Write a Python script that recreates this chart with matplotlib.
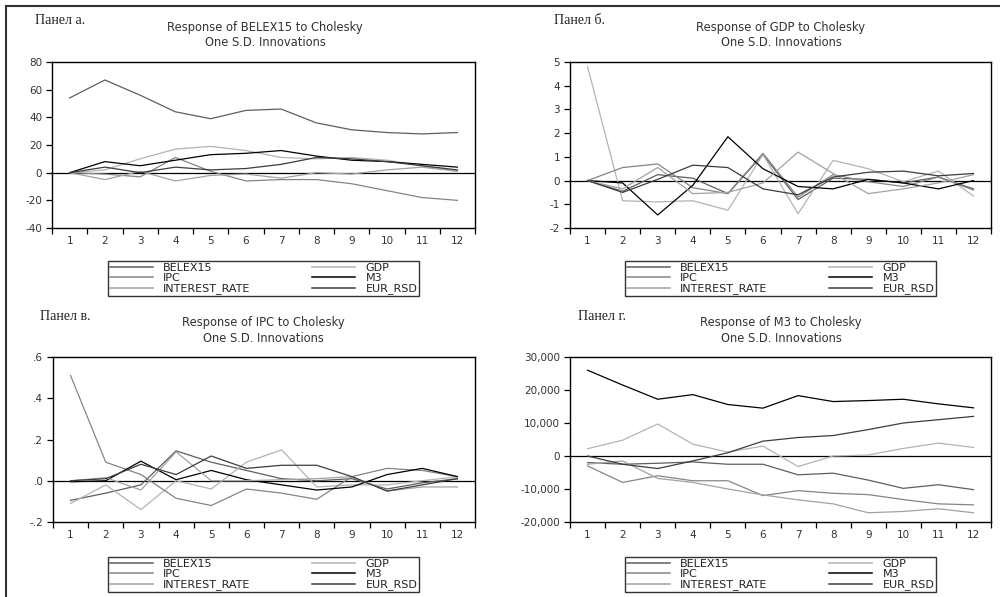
"""Impulse responses (Cholesky, one S.D.) - four panel EViews style chart."""

import matplotlib
matplotlib.use('Agg')
from matplotlib import pyplot as plt
from matplotlib.lines import Line2D
import numpy as np

# Periods on the x axis
PERIODS = list(range(1, 13))

# Legend / series names and grey shades
SERIES = ['BELEX15', 'GDP', 'IPC', 'M3', 'INTEREST_RATE', 'EUR_RSD']
COLORS = ['#5e5e5e', '#b4b4b4', '#858585', '#000000', '#a2a2a2', '#3c3c3c']

# Panel a: response of BELEX15
A_BELEX15 = [54, 67, 56, 44, 39, 45, 46, 36, 31, 29, 28, 29]
A_GDP = [0, 2, 10, 17, 19, 16, 11, 10, 11, 9, 5, 1]
A_IPC = [0, -1, -3, 11, 1, -6, -5, -5, -8, -13, -18, -20]
A_M3 = [0, 8, 5, 9, 13, 14, 16, 12, 9, 8, 6, 4]
A_INTEREST_RATE = [0, -5, 1, -6, -2, -1, -4, 0, -1, 2, 4, 1]
A_EUR_RSD = [0, 4, 0, 4, 2, 3, 6, 11, 10, 8, 5, 2]

# Panel b: response of GDP
B_BELEX15 = [0, -0.45, 0.25, 0.1, -0.55, 1.1, -0.8, 0.1, 0.05, -0.1, 0.15, -0.35]
B_GDP = [4.8, -0.85, -0.9, -0.85, -1.25, 1.1, -1.4, 0.85, 0.5, -0.05, 0.4, -0.65]
B_IPC = [0, 0.55, 0.7, -0.3, -0.55, 1.15, -0.7, 0.25, -0.05, -0.25, 0.15, -0.4]
B_M3 = [0, -0.1, -1.45, -0.2, 1.85, 0.5, -0.25, -0.35, 0.05, -0.1, -0.35, 0.0]
B_INTEREST_RATE = [0, -0.35, 0.55, -0.55, -0.5, -0.1, 1.2, 0.3, -0.55, -0.35, -0.1, 0.25]
B_EUR_RSD = [0, -0.5, 0.05, 0.65, 0.55, -0.35, -0.6, 0.15, 0.35, 0.4, 0.2, 0.3]

# Panel c: response of IPC
C_BELEX15 = [-0.095, -0.06, -0.02, 0.145, 0.09, 0.05, 0.01, 0.0, 0.01, -0.04, -0.01, 0.01]
C_GDP = [-0.11, -0.02, -0.14, 0.0, -0.04, 0.09, 0.15, -0.03, -0.02, -0.02, 0.0, 0.02]
C_IPC = [0.51, 0.09, 0.03, -0.085, -0.12, -0.04, -0.06, -0.09, 0.02, 0.06, 0.05, 0.02]
C_M3 = [-0.005, 0.0, 0.095, 0.005, 0.05, 0.005, -0.02, -0.045, -0.03, 0.03, 0.06, 0.02]
C_INTEREST_RATE = [0.0, 0.015, -0.045, 0.14, 0.0, 0.0, 0.005, 0.01, 0.02, -0.05, -0.03, -0.03]
C_EUR_RSD = [0.0, 0.01, 0.08, 0.03, 0.12, 0.06, 0.075, 0.075, 0.02, -0.05, -0.02, 0.01]

# Panel d: response of M3
D_BELEX15 = [-2000, -2500, -2200, -1800, -2500, -2500, -5700, -5200, -7300,
             -9800, -8700, -10200]
D_GDP = [2200, 4800, 9700, 3600, 1200, 3000, -3200, 0, 300, 2300, 3900, 2600]
D_IPC = [-3000, -8000, -6000, -7500, -7500, -12000, -10500, -11300, -11700,
         -13200, -14500, -14800]
D_M3 = [26000, 21500, 17200, 18600, 15600, 14500, 18300, 16500, 16800,
        17200, 15800, 14600]
D_INTEREST_RATE = [-2500, -1500, -6800, -8000, -10000, -11800, -13300, -14500,
                   -17200, -16800, -16000, -17200]
D_EUR_RSD = [0, -2500, -3800, -1500, 1000, 4500, 5600, 6200, 8000, 10000,
             11000, 12000]

# Y axis ticks and labels per panel
A_YTICKS = [-40, -20, 0, 20, 40, 60, 80]
A_YLABELS = ['-40', '-20', '0', '20', '40', '60', '80']
B_YTICKS = [-2, -1, 0, 1, 2, 3, 4, 5]
B_YLABELS = ['-2', '-1', '0', '1', '2', '3', '4', '5']
C_YTICKS = [-0.2, 0.0, 0.2, 0.4, 0.6]
C_YLABELS = ['-.2', '.0', '.2', '.4', '.6']
D_YTICKS = [-20000, -10000, 0, 10000, 20000, 30000]
D_YLABELS = ['-20,000', '-10,000', '0', '10,000', '20,000', '30,000']

PANEL_LABELS = ['Панел а.', 'Панел б.', 'Панел в.', 'Панел г.']
TITLES = ['Response of BELEX15 to Cholesky\nOne S.D. Innovations',
          'Response of GDP to Cholesky\nOne S.D. Innovations',
          'Response of IPC to Cholesky\nOne S.D. Innovations',
          'Response of M3 to Cholesky\nOne S.D. Innovations']

W, H = 1000, 597


def fx(px):
    """Pixel x to figure fraction."""
    return px / W


def fy(py):
    """Pixel y (from top) to figure fraction."""
    return 1 - py / H


def draw_panel(fig, box, ys, yticks, ylabels, leg_box):
    """Draw one impulse response panel with its legend."""
    x0, y0, x1, y1 = box
    ax = fig.add_axes([fx(x0), fy(y1), fx(x1 - x0), (y1 - y0) / H])
    for name, color, y in zip(SERIES, COLORS, ys):
        ax.plot(PERIODS, y, color=color, lw=0.9, label=name)
    ax.axhline(0, color='black', lw=0.9, zorder=0.5)

    ax.set_xlim(0.5, 12.5)
    ax.set_ylim(yticks[0], yticks[-1])
    ax.set_xticks(np.arange(0.5, 13, 1))
    ax.set_xticklabels([])
    ax.set_xticks(PERIODS, minor=True)
    ax.set_xticklabels([str(p) for p in PERIODS], minor=True)
    ax.tick_params(axis='x', which='major', direction='out', length=4,
                   width=0.9)
    ax.tick_params(axis='x', which='minor', length=0, pad=6,
                   labelsize=7.5, labelcolor='#333333')
    ax.set_yticks(yticks)
    ax.set_yticklabels(ylabels)
    ax.tick_params(axis='y', direction='out', length=4, width=0.9,
                   labelsize=7.5, labelcolor='#333333', pad=3)
    for sp in ax.spines.values():
        sp.set_linewidth(1.0)
        sp.set_color('black')

    # Legend: column wise order
    order = [0, 2, 4, 1, 3, 5]
    handles = [Line2D([], [], color=COLORS[i], lw=1.1) for i in order]
    labels = [SERIES[i] for i in order]
    lx0, ly0, lx1, ly1 = leg_box
    leg = fig.legend(handles, labels, ncol=2, mode='expand',
                     bbox_to_anchor=(fx(lx0), fy(ly1), fx(lx1 - lx0),
                                     (ly1 - ly0) / H),
                     loc='lower left', borderaxespad=0, fontsize=8,
                     handlelength=3.9, handletextpad=0.9, labelspacing=0.02,
                     borderpad=0.15, columnspacing=1.0, fancybox=False,
                     frameon=True)
    leg.get_frame().set_edgecolor('black')
    leg.get_frame().set_linewidth(1.0)
    for t in leg.get_texts():
        t.set_color('#222222')
    return ax


def draw_title(fig, label_x, cx, ty, label, title):
    """Panel label in serif and EViews style title."""
    fig.text(fx(label_x), fy(ty), label, family='Liberation Serif',
             fontsize=10, ha='left', va='center', color='#222222')
    fig.text(fx(cx), fy(ty), title, family='DejaVu Sans', fontsize=8.3,
             ha='center', va='top', color='#333333', linespacing=1.25)


fig = plt.figure(figsize=(W / 100, H / 100), dpi=100)

draw_panel(fig, (52, 62, 475, 228),
           [A_BELEX15, A_GDP, A_IPC, A_M3, A_INTEREST_RATE, A_EUR_RSD],
           A_YTICKS, A_YLABELS, (108, 256, 419, 296))
draw_panel(fig, (570, 62, 991, 228),
           [B_BELEX15, B_GDP, B_IPC, B_M3, B_INTEREST_RATE, B_EUR_RSD],
           B_YTICKS, B_YLABELS, (625, 256, 936, 296))
draw_panel(fig, (53, 357, 475, 522),
           [C_BELEX15, C_GDP, C_IPC, C_M3, C_INTEREST_RATE, C_EUR_RSD],
           C_YTICKS, C_YLABELS, (108, 552, 419, 592))
draw_panel(fig, (570, 357, 991, 522),
           [D_BELEX15, D_GDP, D_IPC, D_M3, D_INTEREST_RATE, D_EUR_RSD],
           D_YTICKS, D_YLABELS, (625, 552, 936, 592))

draw_title(fig, 35, 265, 21, PANEL_LABELS[0], TITLES[0])
draw_title(fig, 554, 781, 21, PANEL_LABELS[1], TITLES[1])
draw_title(fig, 40, 263, 316, PANEL_LABELS[2], TITLES[2])
draw_title(fig, 578, 781, 316, PANEL_LABELS[3], TITLES[3])

# Outer frame (top and left edges of the scanned figure)
fig.add_artist(Line2D([fx(6), 1], [fy(6), fy(6)], color='#333333', lw=1.5))
fig.add_artist(Line2D([fx(6), fx(6)], [fy(6), 0], color='#333333', lw=1.5))

fig.savefig('out.png', dpi=100)
